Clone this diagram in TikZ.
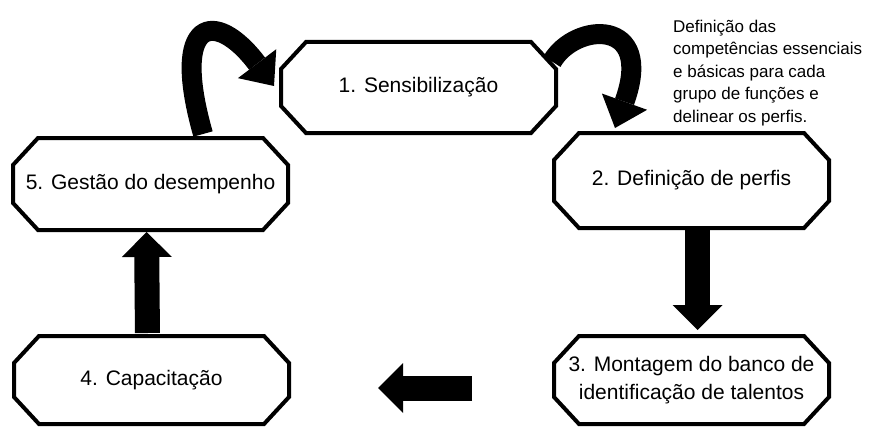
\documentclass[tikz,border=0pt]{standalone}
\usepackage{fontspec}
\setmainfont{Liberation Sans}
\usetikzlibrary{arrows.meta,calc}

\begin{document}
\begin{tikzpicture}[x=1pt, y=-1pt, text=black,
	etapa/.style={rectangle, minimum width=275pt, minimum height=92pt, inner sep=0pt, outer sep=0pt,
		font=\fontsize{21}{28}\selectfont, align=center},
	borda/.style={line width=4pt, line join=miter},
	setareta/.style={line width=25pt, -{Triangle[length=25pt, width=50pt, line width=0pt]}},
	setacurva/.style={line width=20pt, -{Triangle[length=28pt, width=48pt, line width=0pt]}}]
\useasboundingbox (0,0) rectangle (870,428);
\def \cx {25}
\def \cy {27}

%Etapas do ciclo
\node[etapa, minimum height=91pt] (sens) at (418.5,87.5) {1. Sensibiliza\c{c}\~ao};
\node[etapa, minimum height=95pt] (perf) at (691.5,180.5) {2. Defini\c{c}\~ao de perfis};
\node[etapa, minimum height=88pt] (banco) at (691.5,380) {3. Montagem do banco de\\identifica\c{c}\~ao de talentos};
\node[etapa, minimum height=88pt] (capa) at (151.5,380) {4. Capacita\c{c}\~ao};
\node[etapa] (gest) at (150.5,184) {5. Gest\~ao do desempenho};

%Contorno octogonal
\foreach \n in {sens,perf,banco,capa,gest}
	\draw[borda] ($(\n.north west)+(\cx,0)$) -- ($(\n.north east)+(-\cx,0)$) -- ($(\n.north east)+(0,\cy)$)
		-- ($(\n.south east)+(0,-\cy)$) -- ($(\n.south east)+(-\cx,0)$) -- ($(\n.south west)+(\cx,0)$)
		-- ($(\n.south west)+(0,-\cy)$) -- ($(\n.north west)+(0,\cy)$) -- cycle;

%Nota sobre a etapa 2
\node[anchor=north west, inner sep=0pt, align=left, font=\fontsize{17}{22.4}\selectfont] (nota) at (673,20)
	{Defini\c{c}\~ao das\\compet\^encias essenciais\\e b\'asicas para cada\\grupo de fun\c{c}\~oes e\\delinear os perfis.};

%Setas retas
\draw[setareta, shorten <=2pt, shorten >=6pt] ([xshift=6pt]perf.south) -- ([xshift=6pt]banco.north);
\coordinate (inicio) at (472,388);
\coordinate (fim) at (378,388);
\draw[setareta] (inicio) -- (fim);
\draw[setareta, shorten <=3pt, shorten >=2pt] ([xshift=-4pt]capa.north) -- ([xshift=-4pt]gest.south);

%Setas curvas
\draw[setacurva] ($(gest.north)+(52.5,-4)$) .. controls (170,18) and (215,8) .. ($(sens.west)+(-7,-1.5)$);
\draw[setacurva] ($(sens.east)+(-4,-26)$) .. controls (575,22) and (655,17) .. ($(perf.north)+(-76.5,-5)$);

\end{tikzpicture}
\end{document}
